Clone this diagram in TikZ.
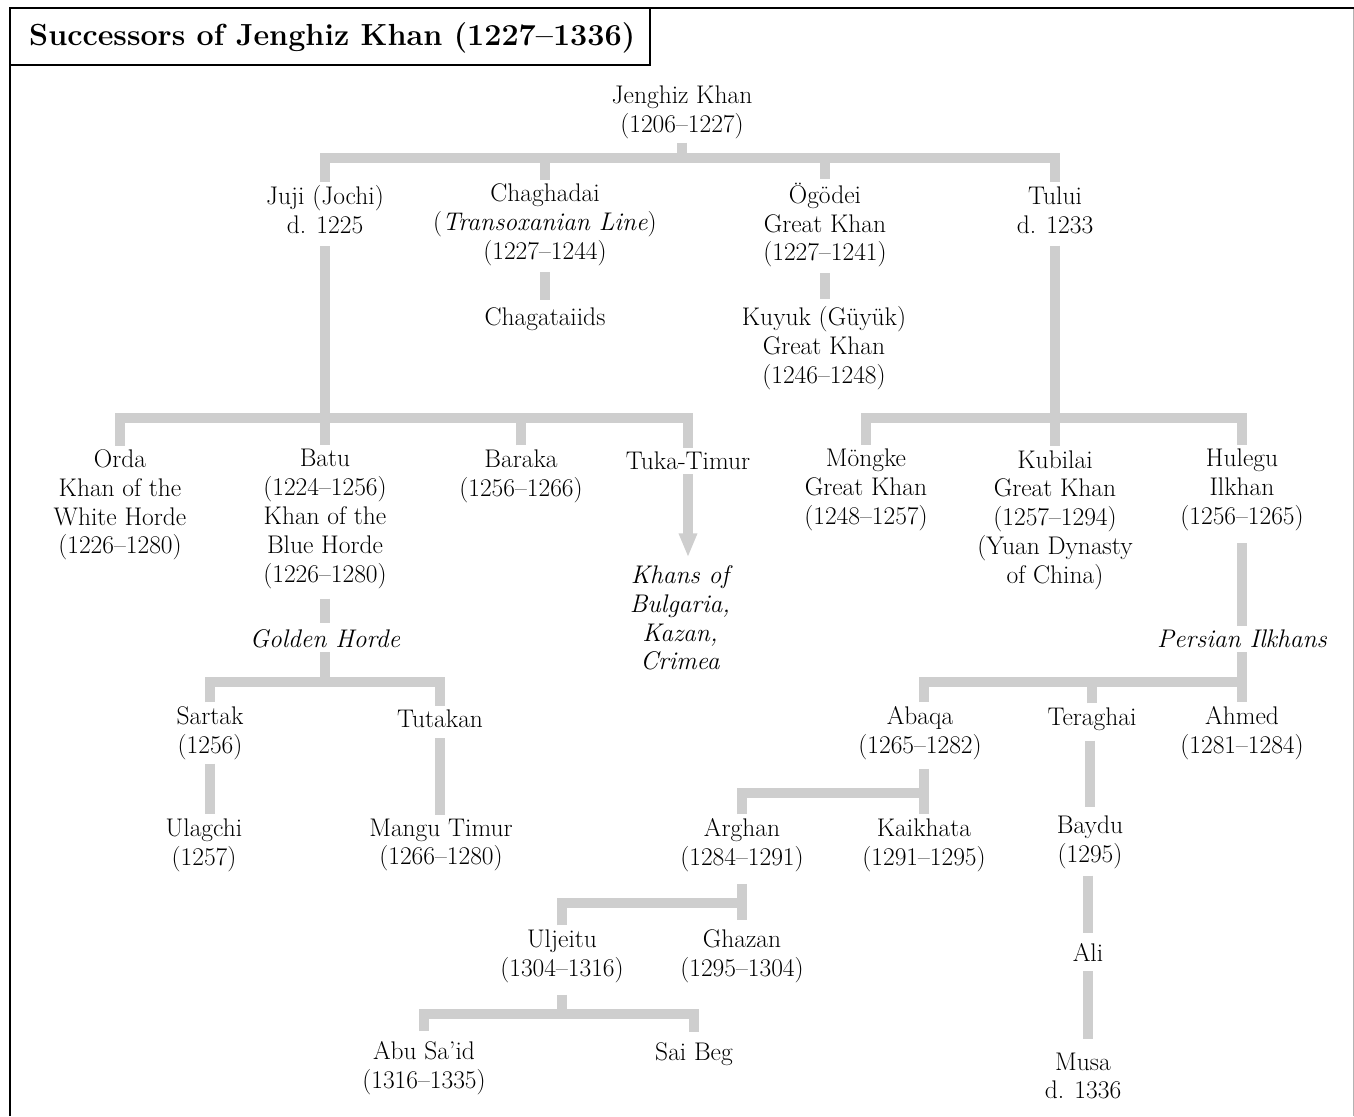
\documentclass[tikz,border=0pt]{standalone}
\usetikzlibrary{arrows.meta}
\definecolor{lineg}{RGB}{206,206,206}
\begin{document}
\begin{tikzpicture}[x=1pt,y=-1pt,
  every node/.style={align=center, inner sep=4pt, font=\fontsize{25.5}{28.8}\selectfont},
  conn/.style={draw=lineg, line width=10pt},
  it/.style={font=\fontsize{25.5}{28.8}\selectfont\itshape},
  tip/.style={-{Triangle[width=17pt,length=24pt]}}]
\useasboundingbox (0,0) rectangle (1354,1116);
% frame
\draw[line width=2.5pt] (10,1116) -- (10,8) -- (1354,8);
\draw[draw=gray!60, line width=1pt] (1353,9) -- (1353,1116);
\draw[line width=1.5pt] (10,8) rectangle (650,65);
\node[font=\fontsize{30.5}{34}\selectfont\bfseries, anchor=west, inner sep=0pt] (title) at (29,38) {Successors of Jenghiz Khan (1227--1336)};
% nodes
\node (jk) at (682,112) {Jenghiz Khan\\(1206--1227)};
\node (juji) at (325,210) {Juji (Jochi)\\d. 1225};
\node (chag) at (545,225) {Chaghadai\\(\textit{Transoxanian Line})\\(1227--1244)};
\node (ogo) at (825,225) {\"Og\"odei\\Great Khan\\(1227--1241)};
\node (tului) at (1055,210) {Tului\\d. 1233};
\node (chagids) at (545,319) {Chagataiids};
\node (kuyuk) at (824,348) {Kuyuk (G\"uy\"uk)\\Great Khan\\(1246--1248)};
\node (orda) at (120,505) {Orda\\Khan of the\\White Horde\\(1226--1280)};
\node (batu) at (325,519) {Batu\\(1224--1256)\\Khan of the\\Blue Horde\\(1226--1280)};
\node (baraka) at (521,476) {Baraka\\(1256--1266)};
\node (tuka) at (688,461) {Tuka-Timur};
\node[it] (khans) at (680,618) {Khans of\\Bulgaria,\\Kazan,\\Crimea};
\node (mongke) at (866,490) {M\"ongke\\Great Khan\\(1248--1257)};
\node (kub) at (1055,520) {Kubilai\\Great Khan\\(1257--1294)\\(Yuan Dynasty\\of China)};
\node (hul) at (1242,490) {Hulegu\\Ilkhan\\(1256--1265)};
\node[it] (golden) at (325,639) {Golden Horde};
\node[it] (pers) at (1242,639) {Persian Ilkhans};
\node (sartak) at (210,733) {Sartak\\(1256)};
\node (tutakan) at (440,719) {Tutakan};
\node (ulag) at (204,845) {Ulagchi\\(1257)};
\node (mangu) at (441,845) {Mangu Timur\\(1266--1280)};
\node (abaqa) at (920,733) {Abaqa\\(1265--1282)};
\node (ter) at (1092,719) {Teraghai};
\node (ahmed) at (1242,733) {Ahmed\\(1281--1284)};
\node (arghan) at (742,845) {Arghan\\(1284--1291)};
\node (kaik) at (924,845) {Kaikhata\\(1291--1295)};
\node (baydu) at (1090,842) {Baydu\\(1295)};
\node (ali) at (1088,952) {Ali};
\node (musa) at (1083,1076) {Musa\\d. 1336};
\node (ulj) at (562,956) {Uljeitu\\(1304--1316)};
\node (ghazan) at (742,956) {Ghazan\\(1295--1304)};
\node (abu) at (424,1068) {Abu Sa'id\\(1316--1335)};
\node (sai) at (694,1054) {Sai Beg};
% bar levels
\coordinate (b1) at (0,158);
\coordinate (b2) at (0,418);
\coordinate (b3) at (0,682);
\coordinate (b4) at (0,793);
\coordinate (b5) at (0,903);
\coordinate (b6) at (0,1014);
% generation 1
\draw[conn] (jk.south) -- (jk |- b1);
\draw[conn] (juji.north) -- (juji |- b1) -- (tului |- b1) -- (tului.north);
\draw[conn] (chag.north) -- (chag |- b1);
\draw[conn] (ogo.north) -- (ogo |- b1);
\draw[conn] ([yshift=-2pt]chag.south) -- ([yshift=3pt]chagids.north);
\draw[conn] ([yshift=-2pt]ogo.south) -- ([yshift=3pt]ogo |- kuyuk.north);
% Juji line
\draw[conn] ([yshift=-8pt]juji.south) -- (batu.north);
\draw[conn] (orda.north) -- (orda |- b2) -- (tuka |- b2) -- (tuka.north);
\draw[conn] (baraka.north) -- (baraka |- b2);
\draw[conn, tip] (tuka.south) -- ([yshift=4pt]tuka |- khans.north);
% Tului line
\draw[conn] ([yshift=-8pt]tului.south) -- (kub.north);
\draw[conn] (mongke.north) -- (mongke |- b2) -- (hul |- b2) -- (hul.north);
\draw[conn] ([yshift=-8pt]hul.south) -- (pers.north);
% Golden Horde
\draw[conn] ([yshift=-6pt]batu.south) -- ([yshift=3pt]golden.north);
\draw[conn] (golden.south) -- (golden |- b3);
\draw[conn] (sartak.north) -- (sartak |- b3) -- (tutakan |- b3) -- (tutakan.north);
\draw[conn] (sartak.south) -- (sartak |- ulag.north);
\draw[conn] ([yshift=-6pt]tutakan.south) -- (tutakan |- mangu.north);
% Persian Ilkhans
\draw[conn] (pers.south) -- (ahmed.north);
\draw[conn] (kaik |- abaqa.north) -- (kaik |- b3) -- (pers |- b3);
\draw[conn] (ter.north) -- (ter |- b3);
\draw[conn] ([yshift=-5pt]kaik |- abaqa.south) -- (kaik.north);
\draw[conn] (arghan.north) -- (arghan |- b4) -- (kaik |- b4);
\draw[conn] ([yshift=-6pt]baydu |- ter.south) -- ([yshift=4pt]baydu.north);
\draw[conn] ([yshift=-3pt]ali |- baydu.south) -- ([yshift=6pt]ali.north);
\draw[conn] ([yshift=-6pt]ali.south) -- ([yshift=10pt]ali |- musa.north);
\draw[conn] ([yshift=-8pt]arghan.south) -- ([yshift=5pt]ghazan.north);
\draw[conn] (ulj.north) -- (ulj |- b5) -- (arghan |- b5);
\draw[conn] ([yshift=-8pt]ulj.south) -- (ulj |- b6);
\draw[conn] ([yshift=6pt]abu.north) -- (abu |- b6) -- (sai |- b6) -- ([yshift=6pt]sai.north);
\end{tikzpicture}
\end{document}
